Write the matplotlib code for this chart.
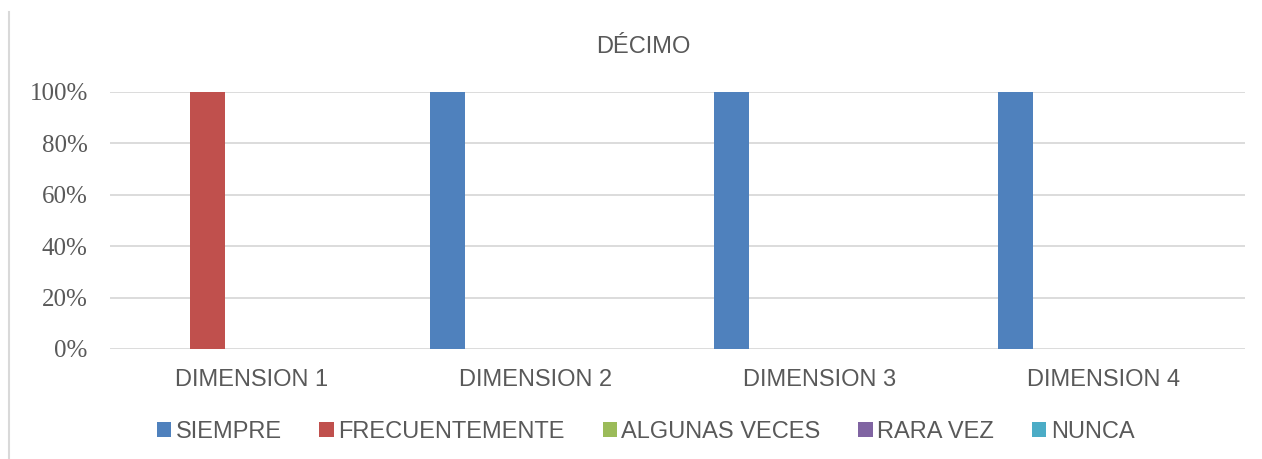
import numpy as np
import matplotlib.pyplot as plt
from matplotlib.lines import Line2D
from matplotlib.patches import Patch

categorias = ['DIMENSION 1', 'DIMENSION 2', 'DIMENSION 3', 'DIMENSION 4']
series = ['SIEMPRE', 'FRECUENTEMENTE', 'ALGUNAS VECES', 'RARA VEZ', 'NUNCA']
siempre = [0.0, 1.0, 1.0, 1.0]
frecuentemente = [1.0, 0.0, 0.0, 0.0]
algunas_veces = [0.0, 0.0, 0.0, 0.0]
rara_vez = [0.0, 0.0, 0.0, 0.0]
nunca = [0.0, 0.0, 0.0, 0.0]
y_ticks = [0, 0.2, 0.4, 0.6, 0.8, 1.0]
y_labels = ['0%', '20%', '40%', '60%', '80%', '100%']

colores = ['#4F81BD', '#C0504D', '#9BBB59', '#8064A2', '#4BACC6']
gris = '#595959'

fig = plt.figure(figsize=(12.62, 4.59), dpi=100)
ax = fig.add_axes([0.0872, 0.2397, 0.8993, 0.5599])

x = np.arange(len(categorias))
paso = 0.155
ancho = 0.123
valores = [siempre, frecuentemente, algunas_veces, rara_vez, nunca]
for i, (vals, col) in enumerate(zip(valores, colores)):
    ax.bar(x + (i - 2) * paso, vals, width=ancho, color=col, linewidth=0, zorder=3)

ax.set_xlim(-0.5, len(categorias) - 0.5)
ax.set_ylim(0, 1)
ax.set_yticks(y_ticks)
ax.set_yticklabels(y_labels, family='Liberation Serif', fontsize=18, color=gris)
ax.set_xticks(x)
ax.set_xticklabels(categorias, family='Liberation Sans', fontsize=17, color=gris)
ax.tick_params(axis='y', length=0, pad=16)
ax.tick_params(axis='x', length=0, pad=14.5)
ax.grid(axis='y', color='#d9d9d9', linewidth=1.3, zorder=0)
for s in ax.spines.values():
    s.set_visible(False)

fig.text(0.5095, 1 - 47 / 459, 'DÉCIMO', ha='center', va='center',
         family='Liberation Sans', fontsize=17, color=gris)

handles = [Patch(facecolor=c, edgecolor='none') for c in colores]
fig.legend(handles, series, loc='center', bbox_to_anchor=(0.5115, 1 - 432 / 459),
           ncol=5, frameon=False, handlelength=0.6, handleheight=0.6,
           handletextpad=0.2, columnspacing=1.6,
           prop={'family': 'Liberation Sans', 'size': 17}, labelcolor=gris)

# borde izquierdo del cuadro
fig.add_artist(Line2D([9 / 1262, 9 / 1262], [0, 1 - 12 / 459],
                      transform=fig.transFigure, color='#d9d9d9', linewidth=1.5))

fig.savefig('out.png', dpi=100, facecolor='white')
